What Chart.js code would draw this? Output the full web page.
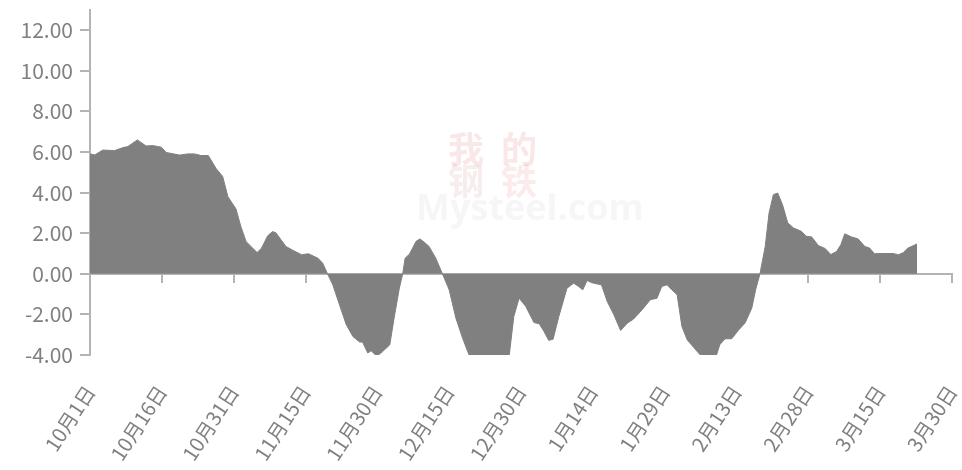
<!DOCTYPE html>
<html>
<head>
<meta charset="utf-8">
<script src="https://cdn.jsdelivr.net/npm/chart.js@4/dist/chart.umd.min.js"></script>
<style>
  html, body { margin: 0; padding: 0; background: #fff; }
  #wrap { width: 962px; height: 470px; }
</style>
</head>
<body>
<div id="wrap"><canvas id="chart"></canvas></div>
<script>
// days counted from 10月1日
const days = [
  0, 1, 2.7, 5.1, 6.9, 7.9, 9.9, 11.7, 13.1, 14.9, 15.9, 18.7, 20.4, 21.8, 23.2, 24.7,
  26.3, 27.7, 28.8, 30.5, 31.5, 32.6, 33.6, 34.9, 35.8, 37.1, 38.1, 38.8, 40.9, 42.6,
  44.2, 45.6, 47.6, 48.6, 49.6, 50.7, 52.1, 53.5, 54.9, 56.3, 56.9, 58.0, 58.7, 59.9,
  61.1, 62.6, 63.5, 64.6, 65.3, 65.8, 66.7, 68.1, 68.9, 69.8, 70.8, 72.2, 73.6, 75.0,
  76.4, 77.8, 79.8, 83.5, 87.3, 88.5, 89.6, 91.0, 92.7, 93.8, 94.8, 95.8, 96.7, 97.9,
  99.6, 101.0, 102.0, 102.9, 103.8, 104.7, 105.7, 106.8, 108.0, 109.4, 110.8, 112.2,
  113.5, 115.3, 117.0, 118.4, 119.4, 120.5, 121.5, 122.6, 123.6, 124.7, 126.0, 127.4,
  129.5, 130.7, 131.5, 132.6, 134.0, 135.4, 136.8, 138.2, 139.0, 139.9, 141.0, 141.8,
  142.7, 143.6, 144.6, 145.7, 146.9, 148.5, 149.6, 150.7, 152.1, 153.5, 154.7, 155.9,
  156.8, 157.6, 159.0, 160.4, 161.8, 162.8, 163.8, 164.6, 167.7, 168.8, 169.8, 170.8, 172.7
];
const values = [
  5.91, 5.86, 6.10, 6.07, 6.22, 6.27, 6.60, 6.30, 6.32, 6.24, 5.98, 5.85, 5.91, 5.91, 5.83, 5.83,
  5.20, 4.80, 3.80, 3.19, 2.33, 1.59, 1.35, 1.05, 1.26, 1.87, 2.08, 2.03, 1.35, 1.13,
  0.94, 0.99, 0.77, 0.52, 0.00, -0.54, -1.53, -2.50, -3.09, -3.36, -3.36, -3.90, -3.79, -4.06,
  -3.83, -3.50, -2.18, -0.70, 0.00, 0.77, 0.97, 1.60, 1.72, 1.56, 1.35, 0.77, 0.00, -0.79,
  -2.18, -3.17, -4.40, -4.80, -4.50, -2.10, -1.20, -1.61, -2.40, -2.46, -2.84, -3.28, -3.22, -2.10,
  -0.71, -0.46, -0.62, -0.79, -0.33, -0.43, -0.49, -0.54, -1.36, -2.02, -2.79, -2.43,
  -2.23, -1.77, -1.28, -1.20, -0.62, -0.54, -0.79, -1.03, -2.60, -3.25, -3.61, -3.99,
  -4.30, -4.10, -3.50, -3.20, -3.20, -2.78, -2.42, -1.68, -0.78, 0.00, 1.35, 3.00,
  3.90, 3.98, 3.41, 2.51, 2.26, 2.10, 1.85, 1.82, 1.39, 1.25, 0.95, 1.10,
  1.44, 1.97, 1.82, 1.72, 1.35, 1.27, 0.99, 1.00, 1.00, 0.94, 1.04, 1.27, 1.47
];
const tickDays = [0, 15, 30, 45, 60, 75, 90, 105, 120, 135, 150, 165, 180];
const tickLabels = ['10月1日', '10月16日', '10月31日', '11月15日', '11月30日', '12月15日', '12月30日',
  '1月14日', '1月29日', '2月13日', '2月28日', '3月15日', '3月30日'];
const yTicks = [-4, -2, 0, 2, 4, 6, 8, 10, 12];

const FONT = '"Noto Sans CJK SC", "Noto Sans", sans-serif';
const AXIS = '#b4b4b4';
const TEXT = '#808080';

const noPad = s => { s.paddingLeft = 0; s.paddingRight = 0; s.paddingTop = 0; s.paddingBottom = 0; };

// faint site watermark in the middle of the plot
const watermark = {
  id: 'watermark',
  beforeDatasetsDraw(chart) {
    const { ctx, chartArea } = chart;
    const cx = (chartArea.left + chartArea.right) / 2;
    const cy = (chartArea.top + chartArea.bottom) / 2;
    ctx.save();
    ctx.textAlign = 'center';
    ctx.textBaseline = 'middle';
    ctx.font = 'bold 36px ' + FONT;
    ctx.fillStyle = 'rgba(215, 60, 60, 0.12)';
    ctx.fillText('我', cx - 55, cy - 33);
    ctx.fillText('的', cx - 2, cy - 33);
    ctx.fillStyle = 'rgba(170, 80, 80, 0.10)';
    ctx.fillText('钢', cx - 55, cy - 1);
    ctx.fillStyle = 'rgba(215, 60, 60, 0.10)';
    ctx.fillText('铁', cx - 2, cy - 1);
    ctx.font = 'bold 36px "Open Sans", sans-serif';
    ctx.fillStyle = 'rgba(150, 150, 150, 0.09)';
    ctx.fillText('Mysteel.com', cx + 9, cy + 27);
    ctx.restore();
  }
};

new Chart(document.getElementById('chart'), {
  type: 'line',
  data: {
    datasets: [{
      data: days.map((d, i) => ({ x: d, y: values[i] })),
      xAxisID: 'x',
      yAxisID: 'y',
      fill: 'origin',
      backgroundColor: '#808080',
      borderColor: '#808080',
      borderWidth: 1,
      pointRadius: 0,
      tension: 0
    }]
  },
  options: {
    responsive: true,
    maintainAspectRatio: false,
    animation: false,
    layout: { padding: { top: 10, right: 10, left: 0, bottom: 0 } },
    plugins: {
      legend: { display: false },
      tooltip: { enabled: false }
    },
    scales: {
      x: {
        type: 'linear',
        position: 'bottom',
        min: 0,
        max: 180,
        grid: { display: false, drawTicks: false },
        border: { display: false },
        afterBuildTicks: s => { s.ticks = tickDays.map(v => ({ value: v })); },
        afterFit: s => { s.height = 115; noPad(s); },
        ticks: {
          autoSkip: false,
          minRotation: 57,
          maxRotation: 57,
          padding: 26,
          color: TEXT,
          font: { family: FONT, size: 20 },
          callback: (v) => tickLabels[tickDays.indexOf(v)]
        }
      },
      x2: {
        type: 'linear',
        position: { y: 0 },
        min: 0,
        max: 180,
        z: 1,
        grid: { display: true, drawOnChartArea: false, drawTicks: true, tickLength: 8, color: AXIS, lineWidth: 2 },
        border: { display: true, color: AXIS, width: 2 },
        afterBuildTicks: s => { s.ticks = tickDays.map(v => ({ value: v })); },
        afterFit: noPad,
        ticks: { display: false }
      },
      y: {
        type: 'linear',
        position: 'left',
        min: -4,
        max: 13,
        grid: { display: true, drawOnChartArea: false, drawTicks: true, tickLength: 10, color: AXIS, lineWidth: 2 },
        border: { display: true, color: AXIS, width: 2 },
        afterBuildTicks: s => { s.ticks = yTicks.map(v => ({ value: v })); },
        afterFit: s => { s.width = 90; noPad(s); },
        ticks: {
          padding: 7,
          color: TEXT,
          font: { family: FONT, size: 21 },
          callback: v => v.toFixed(2)
        }
      }
    }
  },
  plugins: [watermark]
});
</script>
</body>
</html>
